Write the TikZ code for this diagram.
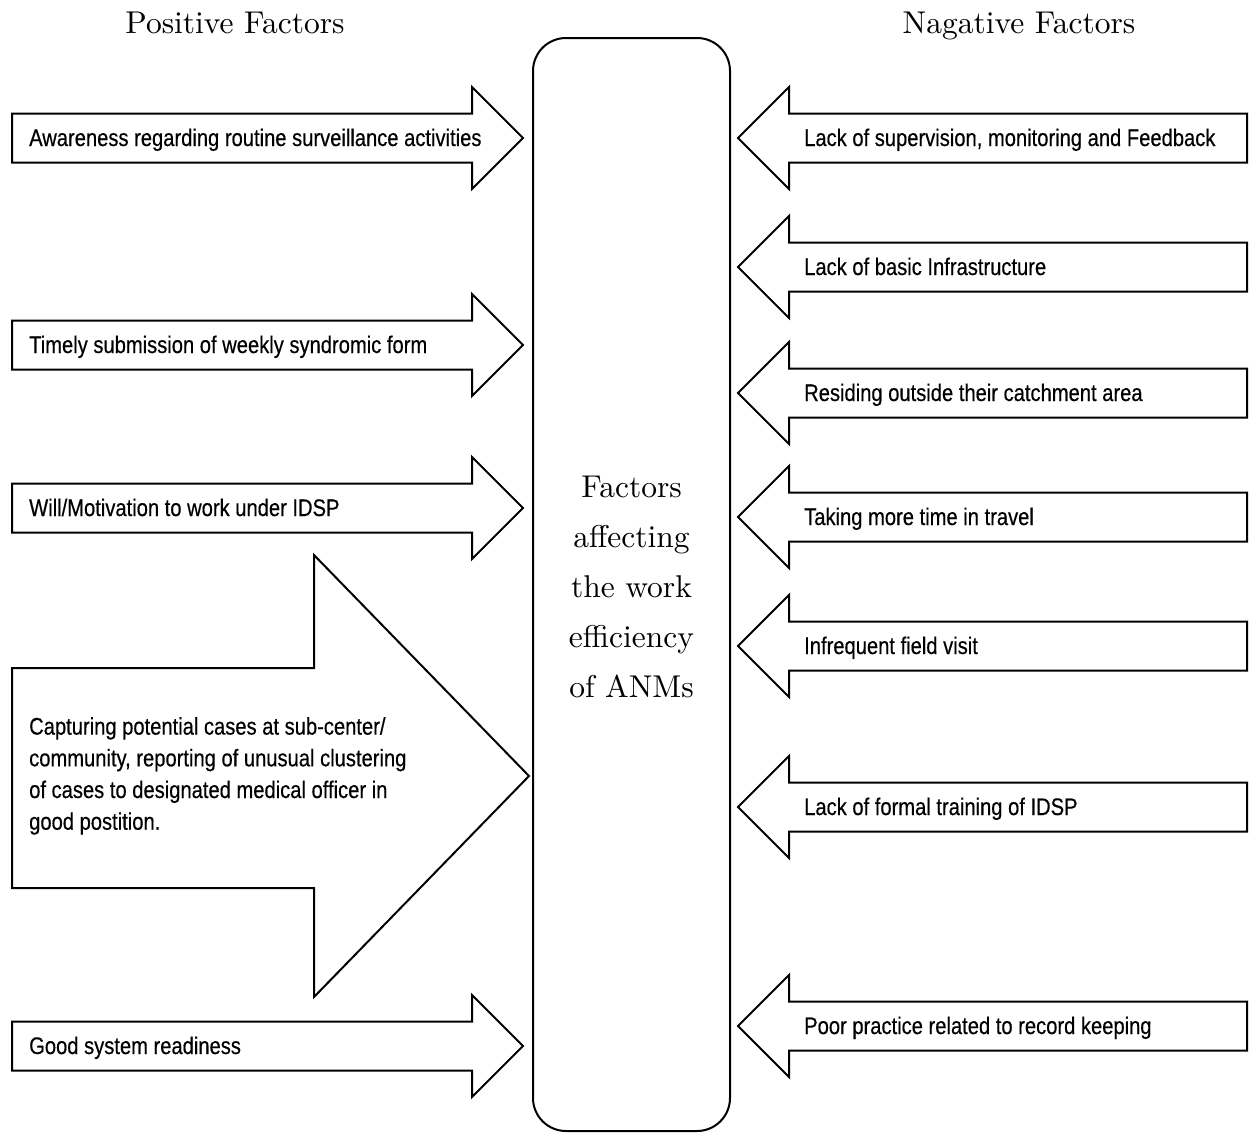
\documentclass[tikz,border=0pt]{standalone}
\usepackage{fontspec}
\newfontfamily\condfont{Liberation Sans}[FakeStretch=0.84,FakeBold=0.4]
\newfontfamily\serifx{lmroman10-regular.otf}
\newcommand{\posarr}[1]{\draw[arr] (12,#1-24.5) -- (472,#1-24.5) -- (472,#1-51) -- (523,#1) -- (472,#1+51) -- (472,#1+24.5) -- (12,#1+24.5) -- cycle;}
\newcommand{\negarr}[1]{\draw[arr] (1247,#1-24.5) -- (789,#1-24.5) -- (789,#1-51) -- (738,#1) -- (789,#1+51) -- (789,#1+24.5) -- (1247,#1+24.5) -- cycle;}
\begin{document}
\begin{tikzpicture}[x=1pt,y=-1pt,
  arr/.style={draw=black,line width=2pt,line join=miter,fill=white},
  lbl/.style={font=\condfont\fontsize{24}{31.7}\selectfont,inner sep=0pt,anchor=base west},
  ttl/.style={font=\serifx\fontsize{31.5}{40}\selectfont,inner sep=0pt,anchor=base}]
\useasboundingbox (0,0) rectangle (1249,1133);
% titles
\node[ttl] (pos) at (235,33) {Positive Factors};
\node[ttl] (neg) at (1019,33) {Nagative Factors};
% central box
\draw[line width=2pt,rounded corners=33pt] (533,38) rectangle (730,1131);
\node[font=\serifx\fontsize{31.5}{50}\selectfont,align=center,inner sep=0pt] (ctr) at (631.5,587) {Factors\\affecting\\the work\\efficiency\\of ANMs};
% positive arrows
\posarr{138}
\posarr{345}
\posarr{508}
\draw[arr] (12,668) -- (314,668) -- (314,555) -- (529,776) -- (314,997) -- (314,888) -- (12,888) -- cycle;
\posarr{1046}
\node[lbl] (p1) at (29,146) {Awareness regarding routine surveillance activities};
\node[lbl] (p2) at (29,353) {Timely submission of weekly syndromic form};
\node[lbl] (p3) at (29,516) {Will/Motivation to work under IDSP};
\node[lbl,anchor=north west,align=left] (p4) at (29,717) {Capturing potential cases at sub-center/\\community, reporting of unusual clustering\\of cases to designated medical officer in\\good postition.};
\node[lbl] (p5) at (29,1054) {Good system readiness};
% negative arrows
\negarr{138}
\negarr{267}
\negarr{393}
\negarr{517}
\negarr{646}
\negarr{807}
\negarr{1026}
\node[lbl] (n1) at (804,146) {Lack of supervision, monitoring and Feedback};
\node[lbl] (n2) at (804,275) {Lack of basic Infrastructure};
\node[lbl] (n3) at (804,401) {Residing outside their catchment area};
\node[lbl] (n4) at (804,525) {Taking more time in travel};
\node[lbl] (n5) at (804,654) {Infrequent field visit};
\node[lbl] (n6) at (804,815) {Lack of formal training of IDSP};
\node[lbl] (n7) at (804,1034) {Poor practice related to record keeping};
\end{tikzpicture}
\end{document}
